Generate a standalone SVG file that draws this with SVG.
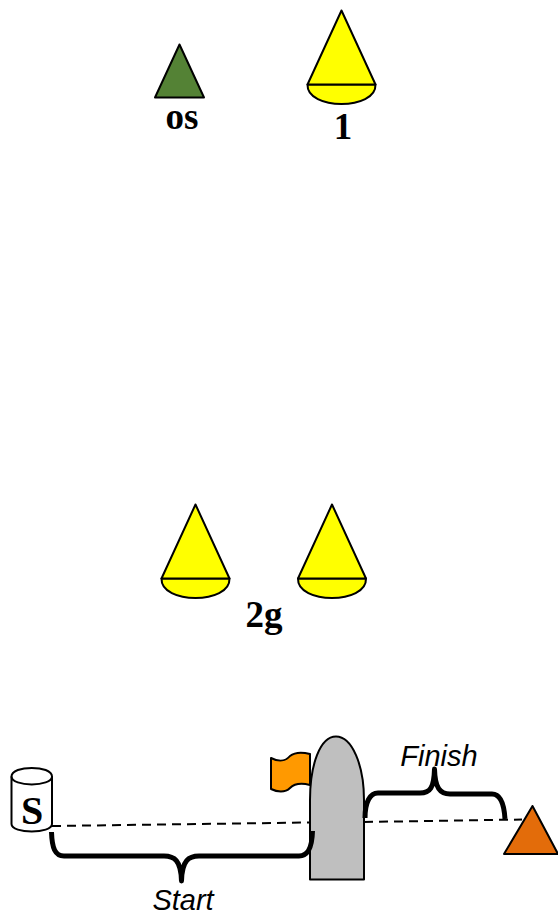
<svg xmlns="http://www.w3.org/2000/svg" width="558" height="917" viewBox="0 0 558 917">
<style>
.s{stroke:#000;stroke-width:2;stroke-linejoin:round}
.y{fill:#ffff00}
.b{font-family:"Liberation Serif",serif;font-weight:bold;fill:#000;text-anchor:middle}
.i{font-family:"Liberation Sans",sans-serif;font-style:italic;font-size:29px;fill:#000;text-anchor:middle}
.br{fill:none;stroke:#000;stroke-width:5;stroke-linejoin:round}
</style>
<defs>
<g id="cone">
<path class="s y" d="M-34,74 C-35,100 35,100 34,74 Z"/>
<path class="s y" d="M0,0 L-34,74 L34,74 Z"/>
</g>
</defs>
<g id="node-os">
<path class="s" fill="#548235" d="M179.500,44.500 L155,97.500 L204,97.500 Z"/>
<text class="b" x="182" y="129" font-size="37">os</text>
</g>
<g id="node-1">
<use href="#cone" x="341.500" y="10.500"/>
<text class="b" x="343" y="139" font-size="37">1</text>
</g>
<g id="node-2g-left">
<use href="#cone" x="195.500" y="504.500"/>
</g>
<g id="node-2g-right">
<use href="#cone" x="332" y="504.500"/>
</g>
<text class="b" x="264" y="627" font-size="37">2g</text>
<g id="connectors">
<path d="M52,826 L310,822.500" fill="none" stroke="#000" stroke-width="2" stroke-dasharray="9 6"/>
<path d="M364,822 L522,819.500" fill="none" stroke="#000" stroke-width="2" stroke-dasharray="9 6"/>
</g>
<g id="node-s">
<path class="s" fill="#fff" d="M11.500,776.500 V824 C11.500,834 52,834 52,824 V776.500 C52,765 11.500,765 11.500,776.500 Z"/>
<path class="s" fill="none" d="M11.500,776.500 C11.500,787 52,787 52,776.500"/>
<text class="b" x="32" y="824" font-size="40">S</text>
</g>
<g id="node-flag">
<path class="s" fill="#ff9900" d="M271,758 C279,762 286,761 290,756 C295,752 302,752 310,754 V785 C302,783 295,783 290,788 C285,793 277,792 271,789 Z"/>
</g>
<g id="node-barrier">
<path class="s" fill="#bfbfbf" d="M310,879.500 V800 C310,765 320,736.500 336,736.500 C352,736.500 364,765 364,800 V879.500 Z"/>
</g>
<g id="node-finish-tri">
<path class="s" fill="#e36c0a" d="M532.500,806 L504,854 L558,854 Z"/>
</g>
<path id="brace-start" class="br" d="M51.500,832 C52,848 55,856 64,856 H164 C174,856 181,860 181.500,881 C182,860 189,856 199,856 H299 C307,856 312,850 312.500,831"/>
<path id="brace-finish" class="br" d="M365,818 C365,802 370,793 378,793 H420 C430,793 434,788 434.500,769 C435,788 440,794 450,794 H492 C500,794 504,802 505,819"/>
<text class="i" x="183" y="910">Start</text>
<text class="i" x="439" y="766">Finish</text>
</svg>
